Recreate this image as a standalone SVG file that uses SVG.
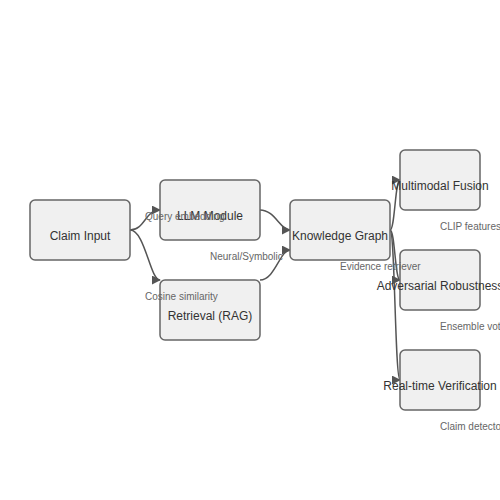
<svg xmlns="http://www.w3.org/2000/svg" width="500" height="500" viewBox="0 0 500 500">
<style>
.node rect{fill:#f0f0f0;stroke:#666;stroke-width:1.5}
.node text{font-family:"Liberation Sans",Arial,sans-serif;font-size:12px;fill:#333;text-anchor:middle}
.edge{fill:none;stroke:#555;stroke-width:1.5;marker-end:url(#arrow)}
.lbl{font-family:"Liberation Sans",Arial,sans-serif;font-size:10px;fill:#666}
</style>
<defs>
<marker id="arrow" viewBox="0 0 10 10" refX="9" refY="5" markerWidth="9" markerHeight="9" markerUnits="userSpaceOnUse" orient="auto">
<path d="M0,0 L10,5 L0,10 z" fill="#555"/>
</marker>
</defs>
<rect width="500" height="500" fill="#fff"/>
<g id="connectors">
<path class="edge" d="M130,230 C145,230 145,210 160,210"/>
<path class="edge" d="M130,230 C145,230 150,280 160,280"/>
<path class="edge" d="M260,210 C275,210 280,230 290,230"/>
<path class="edge" d="M260,280 C275,280 280,250 290,250"/>
<path class="edge" d="M390,230 C395,230 395,180 400,180"/>
<path class="edge" d="M390,230 C395,230 395,280 400,280"/>
<path class="edge" d="M390,230 C395,230 395,380 400,380"/>
</g>
<g id="n-claim" class="node"><rect x="30" y="200" width="100" height="60" rx="5"/><text x="80" y="240">Claim Input</text></g>
<g id="n-llm" class="node"><rect x="160" y="180" width="100" height="60" rx="5"/><text x="210" y="220">LLM Module</text></g>
<g id="n-rag" class="node"><rect x="160" y="280" width="100" height="60" rx="5"/><text x="210" y="320">Retrieval (RAG)</text></g>
<g id="n-kg" class="node"><rect x="290" y="200" width="100" height="60" rx="5"/><text x="340" y="240">Knowledge Graph</text></g>
<g id="n-mm" class="node"><rect x="400" y="150" width="80" height="60" rx="5"/><text x="440" y="190">Multimodal Fusion</text></g>
<g id="n-adv" class="node"><rect x="400" y="250" width="80" height="60" rx="5"/><text x="440" y="290">Adversarial Robustness</text></g>
<g id="n-rt" class="node"><rect x="400" y="350" width="80" height="60" rx="5"/><text x="440" y="390">Real-time Verification</text></g>
<g id="labels">
<text class="lbl" x="145" y="220">Query embedding</text>
<text class="lbl" x="145" y="300">Cosine similarity</text>
<text class="lbl" x="210" y="260">Neural/Symbolic</text>
<text class="lbl" x="340" y="270">Evidence retriever</text>
<text class="lbl" x="440" y="230">CLIP features</text>
<text class="lbl" x="440" y="330">Ensemble voting</text>
<text class="lbl" x="440" y="430">Claim detector</text>
</g>
</svg>
